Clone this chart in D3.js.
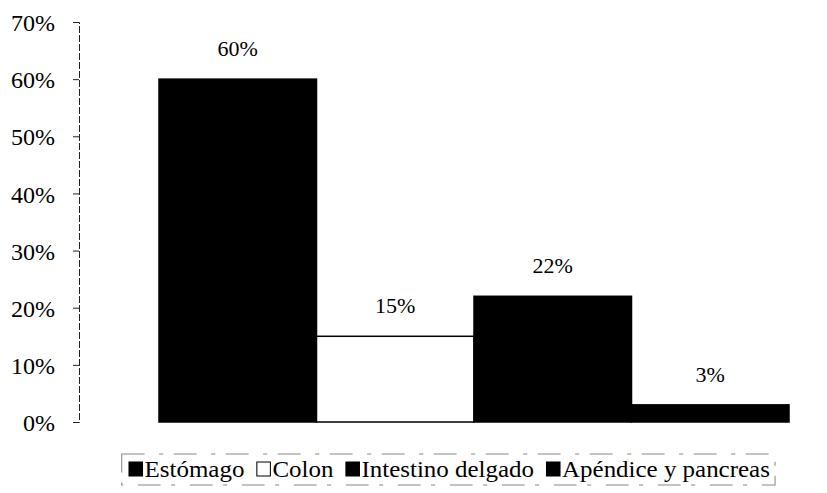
<!DOCTYPE html>
<html>
<head>
<meta charset="utf-8">
<script src="https://cdn.jsdelivr.net/npm/d3@7"></script>
<style>
  body { margin: 0; background: #fff; }
  svg { display: block; }
  svg text { font-family: "Liberation Serif", "Times New Roman", serif; fill: #000; }
</style>
</head>
<body>
<div id="chart-area"></div>
<script>
var categories = ["Estómago", "Colon", "Intestino delgado", "Apéndice y pancreas"];
var values = [0.60, 0.15, 0.22, 0.03];
var fills = ["#000", "#fff", "#000", "#000"];
var yTicks = [0, 0.1, 0.2, 0.3, 0.4, 0.5, 0.6, 0.7];

var formatP = d3.format(".0%");
var serif = "'Liberation Serif', 'Times New Roman', serif";

var width = 827, height = 493;

var svg = d3.select("#chart-area")
    .append("svg")
    .attr("width", width)
    .attr("height", height);

var x = d3.scaleBand()
    .domain(categories)
    .range([159, 789])
    .padding(0);

var y = d3.scaleLinear()
    .domain([0, 0.7])
    .range([422, 22]);

// y axis
var yAxisCall = d3.axisLeft(y)
    .tickValues(yTicks)
    .tickFormat(formatP)
    .tickSize(6)
    .tickPadding(18);

var yAxis = svg.append("g")
    .attr("class", "yaxis")
    .attr("transform", "translate(79,0)")
    .call(yAxisCall);

yAxis.attr("font-family", serif);
yAxis.select(".domain")
    .attr("stroke", "#222")
    .attr("stroke-dasharray", "7,2");
yAxis.selectAll(".tick line").attr("stroke", "#222");
yAxis.selectAll(".tick text")
    .style("font-family", serif)
    .style("font-size", "24px")
    .attr("dy", "0.36em");

// bars
svg.selectAll("rect.bar")
    .data(values)
    .enter()
    .append("rect")
    .attr("class", "bar")
    .attr("x", function(d, i){ return x(categories[i]); })
    .attr("y", function(d){ return y(d); })
    .attr("width", x.bandwidth())
    .attr("height", function(d){ return y(0) - y(d); })
    .attr("fill", function(d, i){ return fills[i]; })
    .attr("stroke", "#000")
    .attr("stroke-width", 1.5);

// value labels
svg.selectAll("text.vlabel")
    .data(values)
    .enter()
    .append("text")
    .attr("class", "vlabel")
    .attr("x", function(d, i){ return x(categories[i]) + x.bandwidth() / 2; })
    .attr("y", function(d){ return y(d) - 23; })
    .attr("text-anchor", "middle")
    .style("font-family", serif)
    .style("font-size", "22px")
    .text(function(d){ return formatP(d); });

// legend (scan is stretched a bit horizontally)
var legend = svg.append("g")
    .attr("class", "legend")
    .attr("transform", "translate(129,469) scale(1.04,1)");

var cx = 0;
categories.forEach(function(c, i){
    var item = legend.append("g").attr("transform", "translate(" + cx + ",0)");
    item.append("rect")
        .attr("x", 0)
        .attr("y", -7)
        .attr("width", 13)
        .attr("height", 14)
        .attr("fill", fills[i])
        .attr("stroke", "#000")
        .attr("stroke-width", 1);
    var t = item.append("text")
        .attr("x", 15)
        .attr("y", 0)
        .attr("dy", "0.35em")
        .style("font-family", serif)
        .style("font-size", "24px")
        .text(c);
    cx += 15 + t.node().getComputedTextLength() + 12;
});

legend.insert("rect", ":first-child")
    .attr("x", -7)
    .attr("y", -15)
    .attr("width", cx)
    .attr("height", 31)
    .attr("fill", "none")
    .attr("stroke", "#888")
    .attr("stroke-width", 1)
    .attr("stroke-dasharray", "22,14,4,10");
</script>
</body>
</html>
